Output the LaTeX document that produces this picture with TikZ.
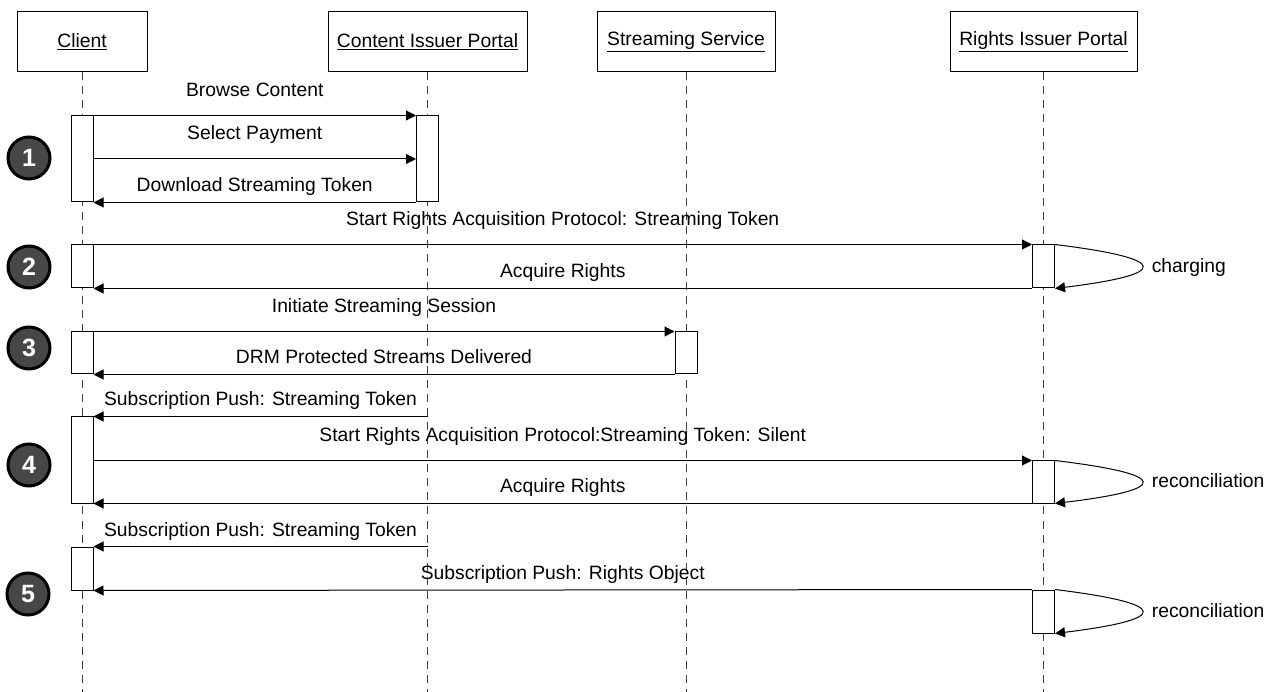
\documentclass[tikz,border=0pt]{standalone}
\usepackage{fontspec}
\setmainfont{Liberation Sans}
\usetikzlibrary{arrows.meta}

\begin{document}
\begin{tikzpicture}[x=1pt,y=-1pt,>={Triangle[length=10pt,width=10pt]},line width=1pt,
	every node/.style={font=\fontsize{19.3}{23}\selectfont},
	head/.style={draw,minimum height=60pt,inner sep=0pt},
	act/.style={draw,fill=white,minimum width=22pt,inner sep=0pt},
	life/.style={black!75,dash pattern=on 8pt off 6pt},
	num/.style={circle,draw=black,line width=3pt,fill=black!72,text=white,minimum size=42pt,inner sep=0pt,font=\fontsize{25}{25}\selectfont\bfseries},
	lbl/.style={anchor=base,yshift=19pt},
	rlbl/.style={anchor=base,yshift=10.5pt},
	loopl/.style={pos=0.5,anchor=base west,xshift=6pt,yshift=-6pt}]

\useasboundingbox (0,0) rectangle (1267,692);

% participants
\node[head,minimum width=130pt]   (cli)  at (82,42)     {\underline{Client}};
\node[head,minimum width=199pt]   (cip)  at (427.5,42)  {\underline{Content Issuer Portal}};
\node[head,minimum width=178pt]   (sts)  at (686,42)    {\underline{Streaming Service}};
\node[head,minimum width=187pt]   (rip)  at (1043.5,42) {\underline{Rights Issuer Portal}};

\coordinate (cliend) at (82,692);
\coordinate (cipend) at (427.5,692);
\coordinate (stsend) at (686,692);
\coordinate (ripend) at (1043.5,692);

\draw[life] (cli) -- (cliend)  (cip) -- (cipend)  (sts) -- (stsend)  (rip) -- (ripend);

% activations
\node[act,minimum height=86pt] (c1) at (82,159)     {};
\node[act,minimum height=86pt] (p1) at (427.5,159)  {};
\node[act,minimum height=43pt] (c2) at (82,266.5)   {};
\node[act,minimum height=43pt] (r2) at (1043.5,266.5) {};
\node[act,minimum height=42pt] (c3) at (82,353)     {};
\node[act,minimum height=42pt] (s3) at (686,353)    {};
\node[act,minimum height=86pt] (c4) at (82,460)     {};
\node[act,minimum height=42pt] (r4) at (1043.5,482) {};
\node[act,minimum height=43pt] (c5) at (82,568.5)   {};
\node[act,minimum height=43pt] (r5) at (1043.5,611.5) {};

% steps
\node[num] (n1) at (29,158) {1};
\node[num] (n2) at (29,267) {2};
\node[num] (n3) at (29,348) {3};
\node[num] (n4) at (29,465) {4};
\node[num] (n5) at (28,594) {5};

% messages
\path[->] (c1.north east) edge node[lbl]{Browse Content} (p1.north west)
		  (c1.east)       edge node[lbl]{Select Payment} (p1.west)
		  (p1.south west) edge node[rlbl]{Download Streaming Token} (c1.south east)
		  (c2.north east) edge node[lbl]{Start Rights Acquisition Protocol: Streaming Token} (r2.north west)
		  (r2.south west) edge node[rlbl]{Acquire Rights} (c2.south east)
		  (c3.north east) edge node[lbl]{Initiate Streaming Session} (s3.north west)
		  (s3.south west) edge node[rlbl]{DRM Protected Streams Delivered} (c3.south east)
		  (cip |- c4.north) edge node[rlbl]{Subscription Push: Streaming Token} (c4.north east)
		  (c4.east |- r4.north) edge node[lbl]{Start Rights Acquisition Protocol:Streaming Token: Silent} (r4.north west)
		  (r4.south west) edge node[rlbl]{Acquire Rights} (c4.south east)
		  (cip |- c5.north) edge node[rlbl]{Subscription Push: Streaming Token} (c5.north east)
		  (r5.north west) edge node[rlbl]{Subscription Push: Rights Object} (c5.south east);

% self calls
\draw[->] (r2.north east) .. controls +(116,14.3) and +(116,-14.3) .. (r2.south east) node[loopl]{charging};
\draw[->] (r4.north east) .. controls +(116,14) and +(116,-14) .. (r4.south east) node[loopl]{reconciliation};
\draw[->] (r5.north east) .. controls +(116,14.3) and +(116,-14.3) .. (r5.south east) node[loopl]{reconciliation};

\end{tikzpicture}
\end{document}
